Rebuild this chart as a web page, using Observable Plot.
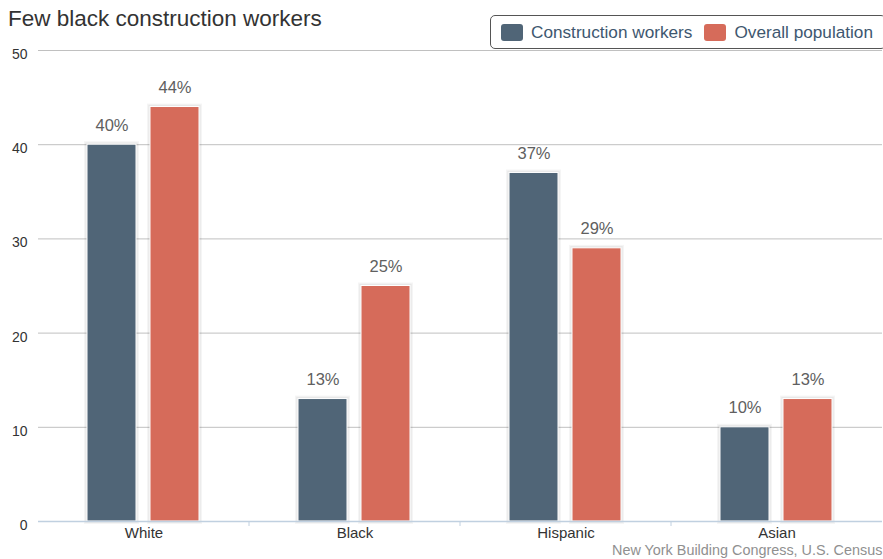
<!DOCTYPE html>
<html>
<head>
<meta charset="utf-8">
<script src="https://cdn.jsdelivr.net/npm/d3@7"></script>
<script src="https://cdn.jsdelivr.net/npm/@observablehq/plot@0.6"></script>
<style>
  html, body { margin: 0; padding: 0; background: #fff; overflow: hidden; }
  #wrap { position: relative; width: 883px; height: 559px; font-family: Arial, "Liberation Sans", sans-serif; }
  #title { position: absolute; left: 8px; top: 6px; font-size: 22.5px; color: #333; white-space: nowrap; z-index: 2; }
  #legend { position: absolute; left: 490px; top: 15px; width: 396px; height: 34px; border: 1px solid #555; border-radius: 5px; box-sizing: border-box; display: flex; align-items: center; white-space: nowrap; background: #fff; z-index: 2; }
  #legend .item { display: flex; align-items: center; font-size: 17.2px; color: #3E576F; margin-left: 10px; }
  #legend .item + .item { margin-left: 12px; }
  #legend .sw { width: 22px; height: 17px; border-radius: 3px; margin-right: 8px; }
  #chart { position: absolute; left: 0; top: 40px; z-index: 1; }
  #caption { position: absolute; left: 612px; top: 542px; font-size: 14.4px; color: #909090; white-space: nowrap; z-index: 2; }
</style>
</head>
<body>
<div id="wrap">
  <div id="title"></div>
  <div id="legend"></div>
  <div id="chart"></div>
  <div id="caption"></div>
</div>
<script>
const titleText = "Few black construction workers";
const captionText = "New York Building Congress, U.S. Census";
const categories = ["White", "Black", "Hispanic", "Asian"];
const series = ["Construction workers", "Overall population"];
const seriesColors = ["#506577", "#D66B5A"];
const construction = [40, 13, 37, 10];
const overall = [44, 25, 29, 13];
const yTicks = [0, 10, 20, 30, 40, 50];

const rows = categories.flatMap((c, i) => [
  {category: c, series: series[0], value: construction[i]},
  {category: c, series: series[1], value: overall[i]}
]);

document.getElementById("title").textContent = titleText;
document.getElementById("caption").textContent = captionText;
const legend = document.getElementById("legend");
series.forEach((s, i) => {
  const it = document.createElement("div");
  it.className = "item";
  const sw = document.createElement("div");
  sw.className = "sw";
  sw.style.background = seriesColors[i];
  const tx = document.createElement("span");
  tx.textContent = s;
  it.appendChild(sw); it.appendChild(tx);
  legend.appendChild(it);
});

const plot = Plot.plot({
  width: 883,
  height: 505,
  marginTop: 10,
  marginBottom: 24,
  marginLeft: 36,
  marginRight: 0,
  style: {fontFamily: "Arial, 'Liberation Sans', sans-serif", background: "#fff"},
  fx: {domain: categories, padding: 0, axis: null},
  x: {domain: series, paddingInner: 0.22, paddingOuter: 0.775, axis: null},
  y: {domain: [0, 50], axis: null},
  color: {domain: series, range: seriesColors},
  marks: [
    Plot.gridY(yTicks.filter(d => d > 0), {stroke: "#C0C0C0", strokeOpacity: 1}),
    Plot.axisY(yTicks, {anchor: "left", tickSize: 0, tickPadding: 11, fontSize: 14, fill: "#333", dy: 4, label: null}),
    Plot.barY(rows, {fx: "category", x: "series", y: "value", fill: "none", stroke: "#000", strokeOpacity: 0.04, strokeWidth: 6}),
    Plot.barY(rows, {fx: "category", x: "series", y: "value", fill: "none", stroke: "#000", strokeOpacity: 0.05, strokeWidth: 3.5}),
    Plot.barY(rows, {fx: "category", x: "series", y: "value", fill: "series", stroke: "#fff", strokeWidth: 1}),
    Plot.ruleY([0], {stroke: "#C0D0E0", strokeWidth: 1.5}),
    Plot.text(rows, {fx: "category", x: "series", y: "value", text: d => `${d.value}%`, dy: -14, lineAnchor: "bottom", fill: "#606060", fontSize: 16.5}),
    Plot.axisFx({anchor: "bottom", tickSize: 0, tickPadding: 6, fontSize: 15, fill: "#333", label: null})
  ]
});

document.getElementById("chart").appendChild(plot);

// band boundary tick marks on the category axis, placed from the fx scale
const fx = plot.scale("fx");
const yS = plot.scale("y");
const svg = d3.select(plot);
const y0 = yS.apply(0);
categories.slice(0, -1).forEach(c => {
  const xb = fx.apply(c) + fx.bandwidth;
  svg.append("line")
    .attr("x1", xb).attr("x2", xb)
    .attr("y1", y0).attr("y2", y0 + 5)
    .attr("stroke", "#C0D0E0").attr("stroke-width", 1);
});
</script>
</body>
</html>
